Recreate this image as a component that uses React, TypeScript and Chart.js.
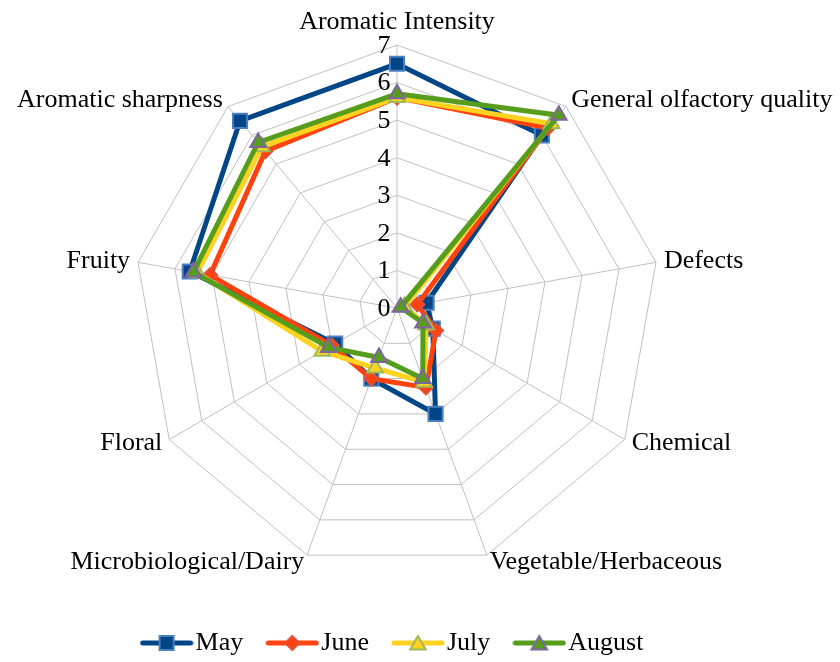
import React, { useEffect, useRef } from "react";
import { Chart, registerables } from "chart.js";

Chart.register(...registerables);

const categories = [
  "Aromatic Intensity",
  "General olfactory quality",
  "Defects",
  "Chemical",
  "Vegetable/Herbaceous",
  "Microbiological/Dairy",
  "Floral",
  "Fruity",
  "Aromatic sharpness",
];

const mayValues = [6.5, 6.0, 0.8, 1.1, 3.0, 2.0, 1.9, 5.6, 6.5];
const juneValues = [5.6, 6.25, 0.55, 1.2, 2.25, 2.0, 2.0, 5.05, 5.45];
const julyValues = [5.6, 6.4, 0.2, 0.9, 2.1, 1.7, 2.3, 5.4, 5.6];
const augustValues = [5.7, 6.7, 0.1, 0.8, 2.0, 1.4, 2.1, 5.5, 5.75];

const tickValues = [0, 1, 2, 3, 4, 5, 6, 7];

const FONT = '"Liberation Serif", "Times New Roman", serif';
const FONT_SIZE = 26;

type SeriesStyle = {
  label: string;
  data: number[];
  line: string;
  fill: string;
  border: string;
  pointStyle: "rect" | "rectRot" | "triangle";
  radius: number;
};

const series: SeriesStyle[] = [
  { label: "May", data: mayValues, line: "#004586", fill: "#004586", border: "#4a7fc0", pointStyle: "rect", radius: 10 },
  { label: "June", data: juneValues, line: "#FF420E", fill: "#FF420E", border: "#e0503a", pointStyle: "rectRot", radius: 7 },
  { label: "July", data: julyValues, line: "#FFD320", fill: "#FFD320", border: "#9BBB59", pointStyle: "triangle", radius: 9 },
  { label: "August", data: augustValues, line: "#579D1C", fill: "#579D1C", border: "#8064A2", pointStyle: "triangle", radius: 9 },
];

function makeLegendImage(s: SeriesStyle): HTMLCanvasElement {
  const c = document.createElement("canvas");
  c.width = 54;
  c.height = 26;
  const ctx = c.getContext("2d")!;
  const cx = 27;
  const cy = 13;
  ctx.strokeStyle = s.line;
  ctx.lineWidth = 5;
  ctx.lineCap = "round";
  ctx.beginPath();
  ctx.moveTo(3, cy);
  ctx.lineTo(51, cy);
  ctx.stroke();
  ctx.fillStyle = s.fill;
  ctx.strokeStyle = s.border;
  ctx.lineWidth = 2;
  ctx.lineCap = "butt";
  ctx.beginPath();
  const r = s.radius;
  if (s.pointStyle === "rect") {
    const h = r * Math.SQRT1_2;
    ctx.rect(cx - h, cy - h, 2 * h, 2 * h);
  } else if (s.pointStyle === "rectRot") {
    ctx.moveTo(cx, cy - r);
    ctx.lineTo(cx + r, cy);
    ctx.lineTo(cx, cy + r);
    ctx.lineTo(cx - r, cy);
    ctx.closePath();
  } else {
    for (let i = 0; i < 3; i++) {
      const a = (i * 2 * Math.PI) / 3;
      const x = cx + Math.sin(a) * r;
      const y = cy + 2 - Math.cos(a) * r;
      if (i === 0) ctx.moveTo(x, y);
      else ctx.lineTo(x, y);
    }
    ctx.closePath();
  }
  ctx.fill();
  ctx.stroke();
  return c;
}

const labelPlugin = {
  id: "labelPlugin",
  beforeDatasetsDraw(chart: any) {
    const scale = chart.scales.r;
    const ctx = chart.ctx;
    ctx.save();
    ctx.font = `${FONT_SIZE}px ${FONT}`;
    ctx.fillStyle = "#000";
    ctx.textBaseline = "middle";
    ctx.textAlign = "center";
    tickValues.forEach((v) => {
      const d = scale.getDistanceFromCenterForValue(v);
      ctx.fillText(String(v), scale.xCenter - 13, scale.yCenter - d + 1);
    });
    const n = categories.length;
    categories.forEach((text, i) => {
      const deg = (i * 360) / n;
      const pos = scale.getPointPosition(i, scale.drawingArea + 8);
      let align: CanvasTextAlign = "center";
      if (deg > 0 && deg < 180) align = "left";
      else if (deg > 180) align = "right";
      ctx.textAlign = align;
      let y = pos.y;
      if (deg === 0) y = pos.y - 15;
      ctx.fillText(text, pos.x, y);
    });
    ctx.restore();
  },
};

export default function App() {
  const ref = useRef<HTMLCanvasElement>(null);
  useEffect(() => {
    if (!ref.current) return;
    const images = series.map(makeLegendImage);
    const chart = new Chart(ref.current, {
      type: "radar",
      data: {
        labels: categories,
        datasets: series.map((s, i) => ({
          label: s.label,
          data: s.data,
          borderColor: s.line,
          backgroundColor: s.line,
          borderWidth: 5,
          fill: false,
          tension: 0,
          pointStyle: s.pointStyle,
          pointRadius: s.radius,
          pointHoverRadius: s.radius,
          pointBackgroundColor: s.fill,
          pointBorderColor: s.border,
          pointBorderWidth: 2,
          order: series.length - i,
        })),
      },
      options: {
        responsive: false,
        animation: false,
        layout: { padding: { left: 0, right: 46, top: 45, bottom: 0 } },
        scales: {
          r: {
            min: 0,
            max: 7,
            ticks: { display: false, stepSize: 1 },
            grid: { color: "#c0c0c0", lineWidth: 1 },
            angleLines: { color: "#c0c0c0", lineWidth: 1 },
            pointLabels: { display: false },
          },
        },
        plugins: {
          tooltip: { enabled: false },
          legend: {
            position: "bottom",
            maxHeight: 91,
            title: { display: true, text: "", font: { size: 10 }, padding: 7 },
            labels: {
              usePointStyle: true,
              pointStyleWidth: 32,
              padding: 33,
              color: "#000",
              font: { family: FONT, size: FONT_SIZE },
              sort: (a: any, b: any) => a.datasetIndex - b.datasetIndex,
              generateLabels: (ch: any) =>
                ch.data.datasets.map((ds: any, i: number) => ({
                  text: ds.label,
                  fillStyle: ds.borderColor,
                  strokeStyle: ds.borderColor,
                  lineWidth: 0,
                  pointStyle: images[i],
                  hidden: false,
                  datasetIndex: i,
                  fontColor: "#000",
                })),
            },
          },
        },
      },
      plugins: [labelPlugin],
    });
    return () => chart.destroy();
  }, []);
  return (
    <div style={{ position: "absolute", left: 0, top: 0 }}>
      <canvas ref={ref} width={840} height={662} />
    </div>
  );
}
